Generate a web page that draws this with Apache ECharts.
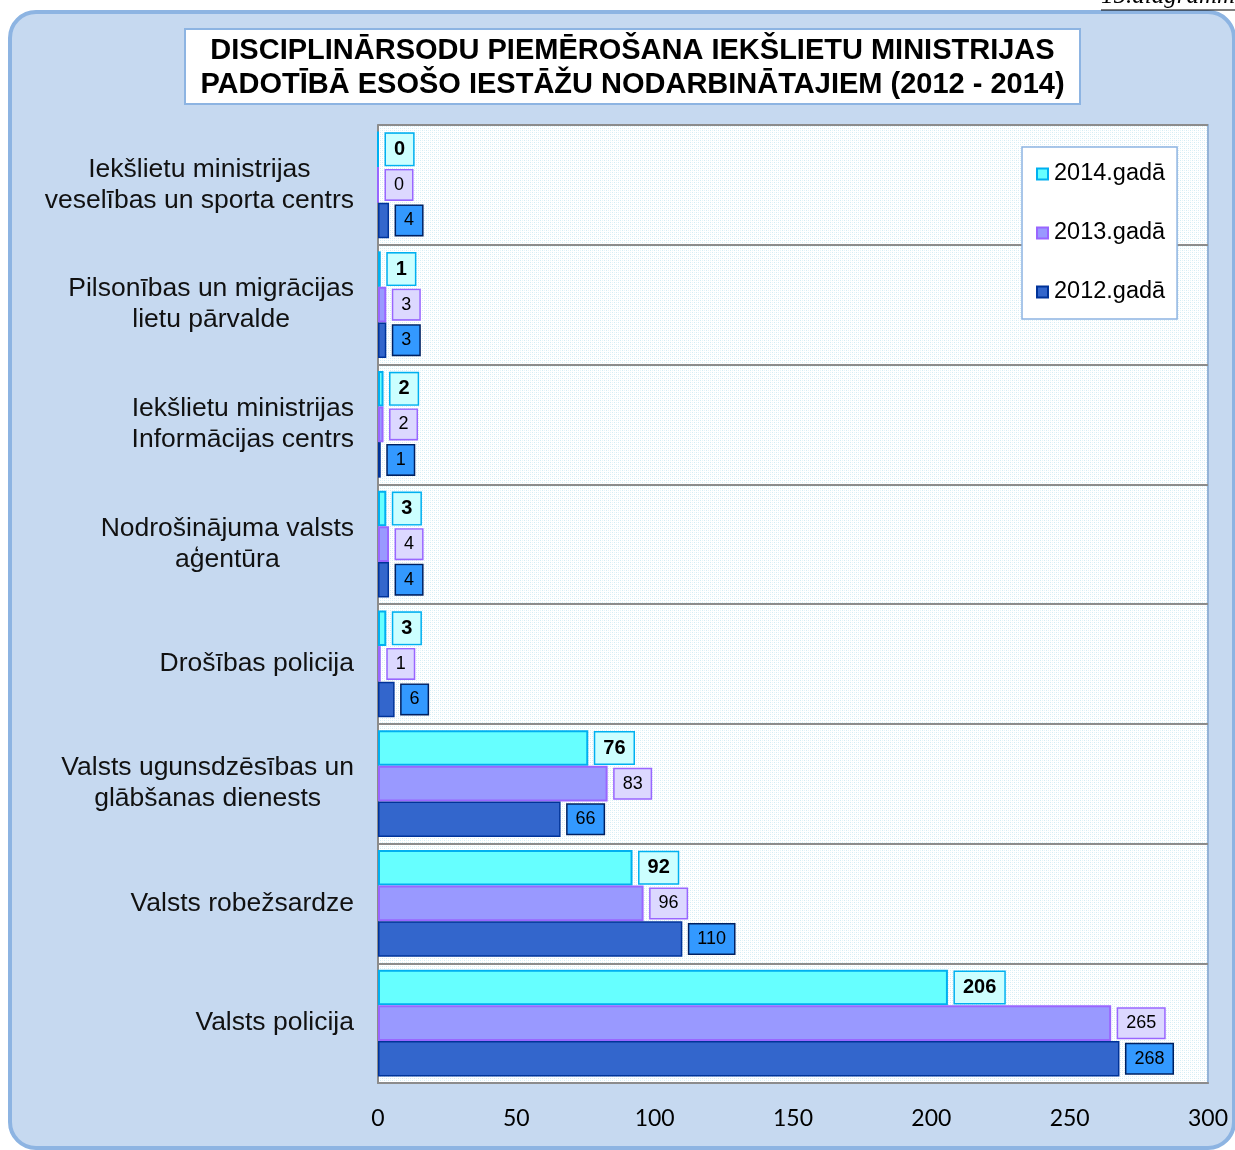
<!DOCTYPE html>
<html>
<head>
<meta charset="utf-8">
<script src="https://cdn.jsdelivr.net/npm/echarts@6/dist/echarts.min.js"></script>
<style>
  html, body { margin: 0; padding: 0; background: #fff; }
  #chart { width: 1235px; height: 1150px; }
</style>
</head>
<body>
<div id="chart"></div>
<script>
// iestādes, no augšas uz leju
const categories = [
  'Iekšlietu ministrijas\nveselības un sporta centrs',
  'Pilsonības un migrācijas\nlietu pārvalde',
  'Iekšlietu ministrijas\nInformācijas centrs',
  'Nodrošinājuma valsts\naģentūra',
  'Drošības policija',
  'Valsts ugunsdzēsības un\nglābšanas dienests',
  'Valsts robežsardze',
  'Valsts policija'
];
const y2014 = [0, 1, 2, 3, 3, 76, 92, 206];
const y2013 = [0, 3, 2, 4, 1, 83, 96, 265];
const y2012 = [4, 3, 1, 4, 6, 66, 110, 268];
const seriesNames = ['2014.gadā', '2013.gadā', '2012.gadā'];
const xTicks = [0, 50, 100, 150, 200, 250, 300];

const chart = echarts.init(document.getElementById('chart'));

// punktots fons zīmēšanas laukumam
const pat = document.createElement('canvas');
pat.width = 4; pat.height = 4;
const pctx = pat.getContext('2d');
pctx.fillStyle = '#ffffff';
pctx.fillRect(0, 0, 4, 4);
pctx.fillStyle = '#d3ecf4';
pctx.fillRect(0, 0, 1, 1);
pctx.fillRect(2, 2, 1, 1);
pctx.fillStyle = '#e6f4f9';
pctx.fillRect(2, 0, 1, 1);
pctx.fillRect(0, 2, 1, 1);

function barSeries(name, data, fill, border, bw, lblBg, lblBorder, bold) {
  return {
    name: name,
    type: 'bar',
    data: data,
    barGap: '0%',
    barCategoryGap: '11%',
    itemStyle: { color: fill, borderColor: border, borderWidth: bw },
    label: {
      show: true,
      position: 'right',
      distance: 7,
      fontFamily: 'Liberation Sans, Arial, sans-serif',
      fontSize: bold ? 20 : 18,
      fontWeight: bold ? 'bold' : 'normal',
      color: '#000',
      backgroundColor: lblBg,
      borderColor: lblBorder,
      borderWidth: 1.5,
      padding: [6, 8, 5, 8]
    }
  };
}

const option = {
  backgroundColor: '#ffffff',
  animation: false,
  graphic: [
    {
      type: 'rect', z: -10,
      shape: { x: 10, y: 12, width: 1224, height: 1136, r: 26 },
      style: { fill: '#c6d9f0', stroke: '#8db4e2', lineWidth: 4 }
    },
    {
      type: 'text', z: -5,
      style: {
        x: 1101, y: 9, text: '15.diagramma',
        font: 'italic 25px "Liberation Serif", serif',
        fill: '#000', textVerticalAlign: 'bottom'
      }
    },
    {
      type: 'line', z: -5,
      shape: { x1: 1101, y1: 10, x2: 1240, y2: 10 },
      style: { stroke: '#000', lineWidth: 1.2 }
    },
    {
      type: 'rect', z: 5,
      shape: { x: 185, y: 29, width: 895, height: 75 },
      style: { fill: '#ffffff', stroke: '#8db4e2', lineWidth: 2 }
    },
    {
      type: 'text', z: 6,
      style: {
        x: 632.5, y: 68,
        text: 'DISCIPLINĀRSODU PIEMĒROŠANA IEKŠLIETU MINISTRIJAS\nPADOTĪBĀ ESOŠO IESTĀŽU NODARBINĀTAJIEM (2012 - 2014)',
        font: 'bold 29px "Liberation Sans", Arial, sans-serif',
        lineHeight: 34,
        fill: '#000',
        textAlign: 'center',
        textVerticalAlign: 'middle'
      }
    }
  ],
  legend: {
    orient: 'vertical',
    left: 1022,
    top: 147,
    data: seriesNames,
    backgroundColor: '#ffffff',
    borderColor: '#8db4e2',
    borderWidth: 1.5,
    padding: [15, 12, 15, 14],
    itemWidth: 11,
    itemHeight: 11,
    itemGap: 35,
    icon: 'rect',
    textStyle: {
      fontFamily: 'Liberation Sans, Arial, sans-serif',
      fontSize: 23.5,
      lineHeight: 23,
      color: '#000',
      padding: [0, 0, 0, 1]
    }
  },
  grid: {
    left: 378,
    right: 27,
    top: 125,
    bottom: 67,
    show: true,
    backgroundColor: { image: pat, repeat: 'repeat' },
    borderColor: '#95b3d7',
    borderWidth: 2
  },
  xAxis: {
    type: 'value',
    min: xTicks[0],
    max: xTicks[xTicks.length - 1],
    interval: xTicks[1] - xTicks[0],
    axisLine: { show: true, lineStyle: { color: '#8c8c8c', width: 2 } },
    axisTick: { show: false },
    splitLine: { show: false },
    axisLabel: {
      margin: 24,
      fontFamily: 'Lato, sans-serif',
      fontSize: 23,
      color: '#000'
    }
  },
  yAxis: {
    type: 'category',
    data: categories,
    inverse: true,
    axisLine: { show: true, lineStyle: { color: '#8c8c8c', width: 2 } },
    axisTick: { show: false },
    splitLine: { show: true, lineStyle: { color: '#8c8c8c', width: 2 } },
    axisLabel: {
      margin: 24,
      align: 'right',
      formatter: function (v) {
        return v.split('\n').map(function (l) { return '{c|' + l + '}'; }).join('\n');
      },
      rich: {
        c: {
          align: 'center',
          fontFamily: 'Liberation Sans, Arial, sans-serif',
          fontSize: 26.5,
          lineHeight: 31,
          color: '#111'
        }
      }
    }
  },
  series: [
    barSeries(seriesNames[0], y2014, '#66ffff', '#00b0f0', 2, '#ccffff', '#00b0f0', true),
    barSeries(seriesNames[1], y2013, '#9999ff', '#9966ff', 2, '#dcd8ff', '#9966ff', false),
    barSeries(seriesNames[2], y2012, '#3366cc', '#003399', 1.5, '#3399ff', '#002060', false)
  ]
};

chart.setOption(option);
</script>
</body>
</html>
